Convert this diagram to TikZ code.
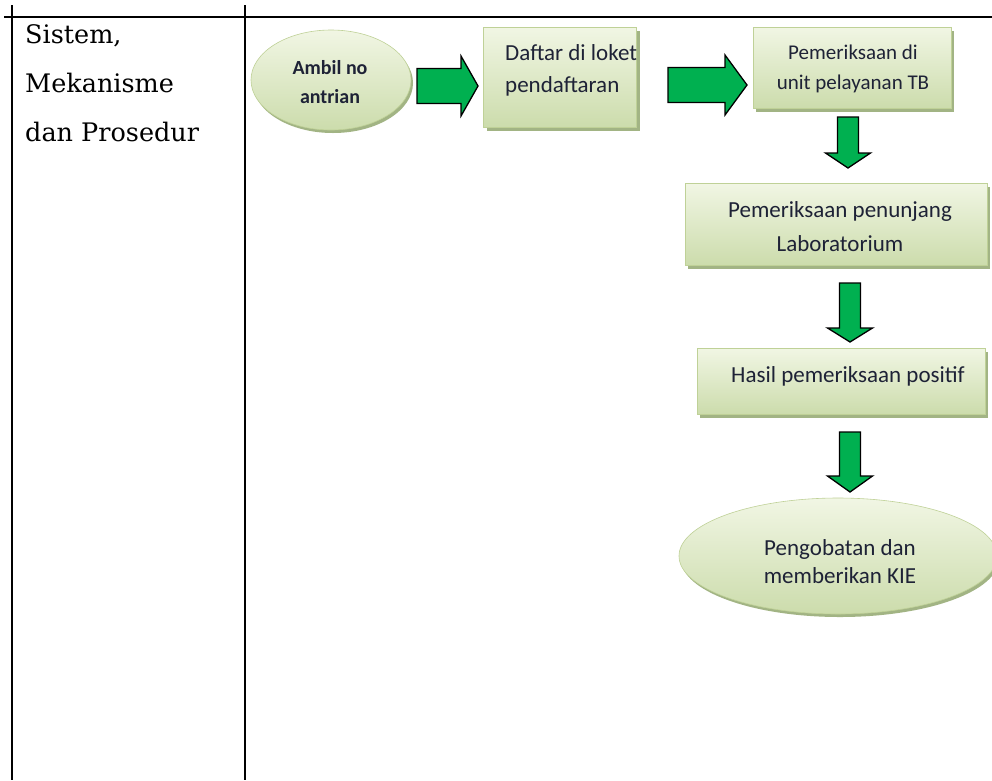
\documentclass[tikz,border=0pt]{standalone}
\usepackage{fontspec}
\setmainfont{DejaVu Serif}
\newfontfamily\boxfnt{Carlito}
\usetikzlibrary{shapes.geometric,shadows,calc}

\definecolor{gA}{HTML}{F1F6E4}
\definecolor{gB}{HTML}{CCDCAC}
\definecolor{gS}{HTML}{A2B484}
\definecolor{gE}{HTML}{BFD197}
\definecolor{arrg}{HTML}{00B050}
\definecolor{tx}{HTML}{1E2236}

\tikzset{
  rulestyle/.style={line width=2.2pt, draw=black},
  box/.style={rectangle, draw=gE, line width=0.6pt, top color=gA, bottom color=gB,
    drop shadow={shadow xshift=3pt, shadow yshift=-4pt, fill=gS, opacity=1}, inner sep=0pt},
  oval/.style={ellipse, draw=gE, line width=0.6pt, top color=gA, bottom color=gB,
    drop shadow={shadow xshift=2pt, shadow yshift=-3pt, fill=gS, opacity=1}, inner sep=0pt},
  txt/.style={font=\boxfnt\fontsize{23}{32}\selectfont, text=tx, inner sep=0pt, align=center},
  lefttxt/.style={font=\fontsize{25.5}{30}\selectfont, text=black, inner sep=0pt, anchor=base west},
  barrow/.style={fill=arrg, draw=black, line width=1.3pt, line join=miter}
}

% horizontal block arrow: #1 start, #2 tip, #3 head length
\newcommand\harr[3]{\draw[barrow] let \p1=(#1), \p2=(#2) in
  (\x1,\y1+17.5pt) -- (\x2-#3,\y1+17.5pt) -- (\x2-#3,\y1+30pt) -- (\x2,\y1)
  -- (\x2-#3,\y1-30pt) -- (\x2-#3,\y1-17.5pt) -- (\x1,\y1-17.5pt) -- cycle;}
% vertical block arrow: #1 start, #2 tip, #3 head length
\newcommand\varr[3]{\draw[barrow] let \p1=(#1), \p2=(#2) in
  (\x1-10.5pt,\y1) -- (\x1-10.5pt,\y2+#3) -- (\x1-22.5pt,\y2+#3) -- (\x1,\y2)
  -- (\x1+22.5pt,\y2+#3) -- (\x1+10.5pt,\y2+#3) -- (\x1+10.5pt,\y1) -- cycle;}

\begin{document}
\begin{tikzpicture}[x=1pt,y=-1pt]
\useasboundingbox (0,0) rectangle (992,780);
\fill[white] (0,0) rectangle (992,780);

% table rules
\coordinate (hl) at (4,17);
\coordinate (hr) at (992,17);
\coordinate (v1t) at (12,5);
\coordinate (v1b) at (12,780);
\coordinate (v2t) at (245,5);
\coordinate (v2b) at (245,780);
\draw[rulestyle] (hl) -- (hr);
\draw[rulestyle] (v1t) -- (v1b);
\draw[rulestyle] (v2t) -- (v2b);

% left column text
\node[lefttxt] (l1) at (25,43) {Sistem,};
\node[lefttxt] (l2) at (25,92) {Mekanisme};
\node[lefttxt] (l3) at (25,141) {dan Prosedur};

% shapes
\node[oval, minimum width=160, minimum height=100] (amb) at (331,80) {};
\node[txt, font=\boxfnt\bfseries\fontsize{20}{29}\selectfont] (ambT) at (330,82) {Ambil no\\antrian};

\node[box, minimum width=153, minimum height=100] (daf) at (560,77) {};
\node[txt, align=left, anchor=west] (dafT) at (505,70) {Daftar di loket\\pendaftaran};

\node[box, minimum width=198, minimum height=81] (pem) at (852,67.5) {};
\node[txt, font=\boxfnt\fontsize{21}{30}\selectfont] (pemT) at (853,69) {Pemeriksaan di\\unit pelayanan TB};

\node[box, minimum width=302, minimum height=82] (lab) at (836,224) {};
\node[txt, font=\boxfnt\fontsize{23}{34}\selectfont] (labT) at (840,227) {Pemeriksaan penunjang\\Laboratorium};

\node[box, minimum width=288, minimum height=66] (has) at (841,381) {};
\node[txt] (hasT) at (848,376) {Hasil pemeriksaan positif};

\node[oval, minimum width=318, minimum height=116] (obat) at (838,556) {};
\node[txt, font=\boxfnt\fontsize{23}{28}\selectfont] (obatT) at (840,562) {Pengobatan dan\\memberikan KIE};

% block arrows
\coordinate (c1s) at (417,86);
\coordinate (c1e) at (478,86);
\coordinate (c2s) at (668,85);
\coordinate (c2e) at (747,85);
\coordinate (d1s) at (848,117);
\coordinate (d1e) at (848,168);
\coordinate (d2s) at (850,283);
\coordinate (d2e) at (850,342);
\coordinate (d3s) at (850,432);
\coordinate (d3e) at (850,492);
\harr{c1s}{c1e}{17pt}
\harr{c2s}{c2e}{22pt}
\varr{d1s}{d1e}{15pt}
\varr{d2s}{d2e}{14pt}
\varr{d3s}{d3e}{16pt}
\end{tikzpicture}
\end{document}
